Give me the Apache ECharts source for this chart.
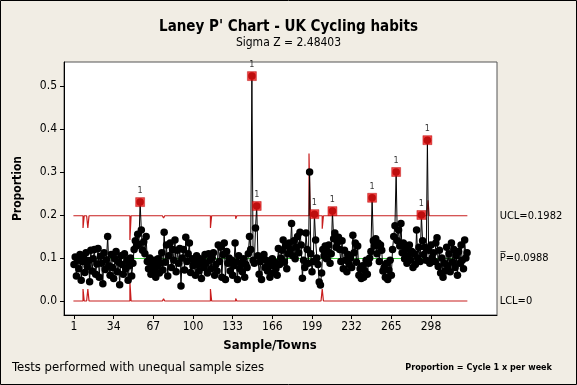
<!DOCTYPE html>
<html><head><meta charset="utf-8">
<script src="https://cdn.jsdelivr.net/npm/echarts@6/dist/echarts.min.js"></script>
<style>html,body{margin:0;padding:0;background:#F1EDE4}#c{width:577px;height:385px}</style>
</head><body><div id="c"></div>
<script>
// Proportion per sample (town), samples 1..328
const proportions = [
 0.085,0.102,0.058,0.095,0.075,0.108,0.048,0.092,0.100,0.066,
 0.112,0.080,0.094,0.045,0.118,0.070,0.098,0.120,0.062,0.086,
 0.122,0.055,0.104,0.088,0.040,0.112,0.073,0.096,0.150,0.082,
 0.060,0.108,0.078,0.052,0.098,0.115,0.068,0.090,0.038,0.105,
 0.085,0.062,0.110,0.075,0.095,0.048,0.082,0.100,0.058,0.088,
 0.120,0.140,0.128,0.155,0.132,0.230,0.165,0.118,0.138,0.110,
 0.150,0.092,0.075,0.100,0.062,0.085,0.070,0.095,0.055,0.080,
 0.098,0.065,0.088,0.112,0.072,0.160,0.090,0.130,0.058,0.105,
 0.135,0.078,0.120,0.095,0.142,0.068,0.118,0.088,0.122,0.035,
 0.100,0.120,0.072,0.148,0.092,0.110,0.135,0.066,0.098,0.082,
 0.090,0.060,0.105,0.085,0.070,0.098,0.052,0.092,0.078,0.108,
 0.088,0.065,0.110,0.095,0.075,0.100,0.112,0.060,0.085,0.070,
 0.130,0.092,0.125,0.055,0.108,0.135,0.050,0.115,0.088,0.100,
 0.070,0.095,0.060,0.082,0.135,0.090,0.050,0.105,0.075,0.088,
 0.068,0.098,0.055,0.085,0.078,0.110,0.150,0.120,0.523,0.095,
 0.088,0.170,0.221,0.105,0.062,0.092,0.050,0.100,0.108,0.078,
 0.095,0.070,0.088,0.055,0.082,0.098,0.065,0.090,0.075,0.060,
 0.122,0.085,0.100,0.118,0.142,0.090,0.128,0.075,0.110,0.135,
 0.120,0.180,0.105,0.140,0.098,0.125,0.150,0.112,0.160,0.130,
 0.053,0.095,0.078,0.158,0.120,0.088,0.300,0.110,0.068,0.092,
 0.202,0.142,0.100,0.085,0.044,0.037,0.065,0.120,0.105,0.128,
 0.098,0.115,0.130,0.088,0.110,0.209,0.145,0.158,0.125,0.135,
 0.148,0.120,0.092,0.140,0.075,0.118,0.095,0.068,0.108,0.085,
 0.100,0.078,0.153,0.112,0.135,0.090,0.128,0.060,0.075,0.052,
 0.082,0.055,0.070,0.095,0.062,0.088,0.100,0.115,0.240,0.140,
 0.128,0.145,0.110,0.135,0.092,0.130,0.118,0.070,0.078,0.055,
 0.088,0.050,0.072,0.095,0.060,0.120,0.150,0.175,0.300,0.140,
 0.165,0.128,0.180,0.112,0.135,0.098,0.120,0.088,0.105,0.130,
 0.095,0.115,0.078,0.110,0.085,0.165,0.100,0.125,0.092,0.200,
 0.140,0.108,0.125,0.095,0.374,0.118,0.088,0.130,0.100,0.112,
 0.092,0.135,0.147,0.080,0.118,0.065,0.100,0.055,0.088,0.070,
 0.125,0.082,0.110,0.068,0.135,0.090,0.120,0.078,0.105,0.060,
 0.115,0.088,0.130,0.095,0.075,0.142,0.100,0.112
];
const centerLine = 0.0988;
const uclBase = 0.1982;
const lclBase = 0;
// samples whose size differs enough to move the limits
const limitSamples = [9, 13, 48, 76, 115, 136, 197, 208, 296];
const limitUcl     = [0.170, 0.170, 0.142, 0.193, 0.170, 0.191, 0.343, 0.168, 0.234];
const limitLcl     = [0.028, 0.028, 0.045, 0.005, 0.028, 0.006, 0, 0.028, 0];
const xTicks = [1, 34, 67, 100, 133, 166, 199, 232, 265, 298];
const yTicks = [0, 0.1, 0.2, 0.3, 0.4, 0.5];

const FONT = '"DejaVu Sans Condensed","DejaVu Sans",sans-serif';
const n = proportions.length;
const ucl = [], lcl = [];
for (let i = 1; i <= n; i++) {
  const k = limitSamples.indexOf(i);
  ucl.push(k >= 0 ? limitUcl[k] : uclBase);
  lcl.push(k >= 0 ? limitLcl[k] : lclBase);
}
function stepData(arr) {
  const d = [[0.5, arr[0]]];
  arr.forEach((v, i) => d.push([i + 1, v]));
  d.push([n + 0.5, arr[n - 1]]);
  return d;
}
const pts = proportions.map((v, i) => [i + 1, v]);
const outPts = pts.filter((p, i) => p[1] > ucl[i]);

const chart = echarts.init(document.getElementById('c'), null, {renderer: 'canvas'});
const limitColor = '#C81E1E';
chart.setOption({
  animation: false,
  backgroundColor: '#F1EDE4',
  textStyle: {fontFamily: FONT},
  grid: {left: 64, top: 62, width: 433, height: 253, show: true,
         backgroundColor: '#FFFFFF', borderColor: '#555555', borderWidth: 1},
  xAxis: {
    type: 'value', min: -7.32, max: 352.9,
    splitLine: {show: false},
    axisLine: {show: true, onZero: false, lineStyle: {color: '#000'}},
    axisTick: {show: true, length: 4, customValues: xTicks, lineStyle: {color: '#000'}},
    axisLabel: {customValues: xTicks, color: '#000', fontSize: 12, margin: 6, fontFamily: FONT}
  },
  yAxis: {
    type: 'value', min: -0.0326, max: 0.5558,
    splitLine: {show: false},
    axisLine: {show: true, onZero: false, lineStyle: {color: '#000'}},
    axisTick: {show: true, length: 4, customValues: yTicks, lineStyle: {color: '#000'}},
    axisLabel: {customValues: yTicks, color: '#000', fontSize: 12, margin: 7, fontFamily: FONT,
                formatter: v => v.toFixed(1)},
    name: 'Proportion', nameLocation: 'middle', nameGap: 40,
    nameTextStyle: {fontWeight: 'bold', fontSize: 12, color: '#000', fontFamily: FONT}
  },
  series: [
    {type: 'line', step: 'middle', data: stepData(ucl), showSymbol: false, symbol: 'none',
     lineStyle: {color: limitColor, width: 1.2}, z: 1, silent: true,
     endLabel: {show: true, formatter: 'UCL=' + uclBase, color: '#000', fontSize: 11, distance: 32, fontFamily: FONT}},
    {type: 'line', step: 'middle', data: stepData(lcl), showSymbol: false, symbol: 'none',
     lineStyle: {color: limitColor, width: 1.2}, z: 1, silent: true,
     endLabel: {show: true, formatter: 'LCL=' + lclBase, color: '#000', fontSize: 11, distance: 32, fontFamily: FONT}},
    {type: 'line', data: [[0.5, centerLine], [n + 0.5, centerLine]], showSymbol: false, symbol: 'none',
     lineStyle: {color: '#3CC83C', width: 1}, z: 1, silent: true,
     endLabel: {show: true, formatter: 'P\u0305=' + centerLine, color: '#000', fontSize: 11, distance: 32, fontFamily: FONT}},
    {type: 'line', data: pts, symbol: 'circle', symbolSize: 7.5, showAllSymbol: true,
     itemStyle: {color: '#000'}, lineStyle: {color: '#000', width: 1}, z: 3},
    {type: 'scatter', data: outPts, symbol: 'rect', symbolSize: 9,
     itemStyle: {color: '#EE1111', borderColor: '#B00000', borderWidth: 0.5}, z: 4,
     label: {show: true, formatter: '1', position: 'top', distance: 2, fontSize: 9, color: '#000', fontFamily: FONT}}
  ],
  graphic: [
    {type: 'rect', shape: {x: 0.5, y: 0.5, width: 576, height: 384}, style: {fill: null, stroke: '#000', lineWidth: 1}, silent: true},
    {type: 'text', left: 'center', top: 20, style: {text: "Laney P' Chart - UK Cycling habits", font: 'bold 15px ' + FONT, fill: '#000'}},
    {type: 'text', left: 'center', top: 37, style: {text: 'Sigma Z = 2.48403', font: '12px ' + FONT, fill: '#000'}},
    {type: 'text', x: 270, y: 346, style: {text: 'Sample/Towns', font: 'bold 13px ' + FONT, fill: '#000', align: 'center', verticalAlign: 'middle'}},
    {type: 'text', x: 12, y: 368, style: {text: 'Tests performed with unequal sample sizes', font: '13px ' + FONT, fill: '#000', verticalAlign: 'middle'}},
    {type: 'text', x: 552, y: 368, style: {text: 'Proportion = Cycle 1 x per week', font: 'bold 9px ' + FONT, fill: '#000', align: 'right', verticalAlign: 'middle'}}
  ]
});
</script></body></html>
